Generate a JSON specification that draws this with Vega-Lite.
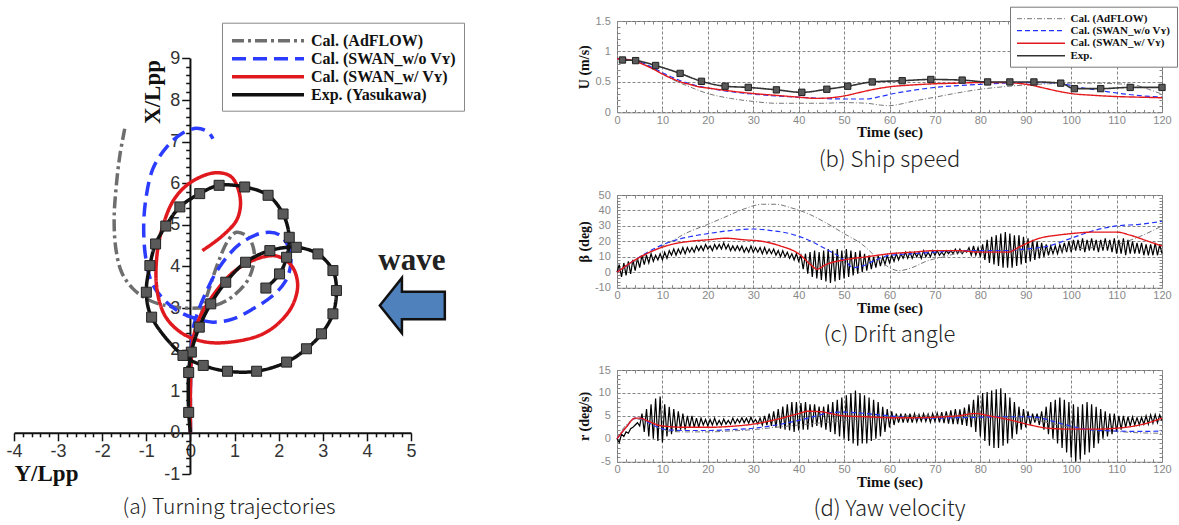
{
"$schema":"https://vega.github.io/schema/vega-lite/v6.json",
"background":"#ffffff",
"padding":{"left":5,"top":5,"right":0,"bottom":0},
"spacing":111,
"datasets":{
"traj":[
{"s":"A","o":1,"ylpp":0,"xlpp":0},{"s":"A","o":2,"ylpp":0,"xlpp":1.0},{"s":"A","o":3,"ylpp":0.02,"xlpp":1.8},{"s":"A","o":4,"ylpp":0.08,"xlpp":2.3},{"s":"A","o":5,"ylpp":0.21,"xlpp":2.74},{"s":"A","o":6,"ylpp":0.40,"xlpp":3.38},{"s":"A","o":7,"ylpp":0.63,"xlpp":4.10},{"s":"A","o":8,"ylpp":0.85,"xlpp":4.62},{"s":"A","o":9,"ylpp":1.04,"xlpp":4.82},{"s":"A","o":10,"ylpp":1.31,"xlpp":4.70},{"s":"A","o":11,"ylpp":1.44,"xlpp":4.38},{"s":"A","o":12,"ylpp":1.42,"xlpp":4.00},{"s":"A","o":13,"ylpp":1.27,"xlpp":3.62},{"s":"A","o":14,"ylpp":0.82,"xlpp":3.18},{"s":"A","o":15,"ylpp":0.36,"xlpp":3.02},{"s":"A","o":16,"ylpp":-0.35,"xlpp":3.02},{"s":"A","o":17,"ylpp":-0.92,"xlpp":3.18},{"s":"A","o":18,"ylpp":-1.30,"xlpp":3.46},{"s":"A","o":19,"ylpp":-1.56,"xlpp":3.86},{"s":"A","o":20,"ylpp":-1.69,"xlpp":4.42},{"s":"A","o":21,"ylpp":-1.73,"xlpp":5.14},{"s":"A","o":22,"ylpp":-1.68,"xlpp":5.95},{"s":"A","o":23,"ylpp":-1.60,"xlpp":6.67},{"s":"A","o":24,"ylpp":-1.49,"xlpp":7.31},
{"s":"W","o":1,"ylpp":0,"xlpp":0},{"s":"W","o":2,"ylpp":0,"xlpp":1.2},{"s":"W","o":3,"ylpp":0.02,"xlpp":2.0},{"s":"W","o":4,"ylpp":0.05,"xlpp":2.45},{"s":"W","o":5,"ylpp":0.14,"xlpp":2.82},{"s":"W","o":6,"ylpp":0.32,"xlpp":3.30},{"s":"W","o":7,"ylpp":0.63,"xlpp":3.94},{"s":"W","o":8,"ylpp":1.12,"xlpp":4.54},{"s":"W","o":9,"ylpp":1.65,"xlpp":4.81},{"s":"W","o":10,"ylpp":2.02,"xlpp":4.76},{"s":"W","o":11,"ylpp":2.24,"xlpp":4.42},{"s":"W","o":12,"ylpp":2.27,"xlpp":4.02},{"s":"W","o":13,"ylpp":2.14,"xlpp":3.62},{"s":"W","o":14,"ylpp":1.87,"xlpp":3.30},{"s":"W","o":15,"ylpp":1.42,"xlpp":2.98},{"s":"W","o":16,"ylpp":0.97,"xlpp":2.74},{"s":"W","o":17,"ylpp":0.51,"xlpp":2.66},{"s":"W","o":18,"ylpp":0.14,"xlpp":2.74},{"s":"W","o":19,"ylpp":-0.24,"xlpp":2.90},{"s":"W","o":20,"ylpp":-0.62,"xlpp":3.22},{"s":"W","o":21,"ylpp":-0.88,"xlpp":3.62},{"s":"W","o":22,"ylpp":-1.01,"xlpp":4.18},{"s":"W","o":23,"ylpp":-1.06,"xlpp":4.90},{"s":"W","o":24,"ylpp":-1.01,"xlpp":5.63},{"s":"W","o":25,"ylpp":-0.85,"xlpp":6.35},{"s":"W","o":26,"ylpp":-0.54,"xlpp":6.87},{"s":"W","o":27,"ylpp":-0.2,"xlpp":7.19},{"s":"W","o":28,"ylpp":0.14,"xlpp":7.32},{"s":"W","o":29,"ylpp":0.4,"xlpp":7.23},{"s":"W","o":30,"ylpp":0.51,"xlpp":7.07},
{"s":"S","o":1,"ylpp":0,"xlpp":0},{"s":"S","o":2,"ylpp":0,"xlpp":1.0},{"s":"S","o":3,"ylpp":0.02,"xlpp":1.8},{"s":"S","o":4,"ylpp":0.06,"xlpp":2.26},{"s":"S","o":5,"ylpp":0.2,"xlpp":2.75},{"s":"S","o":6,"ylpp":0.51,"xlpp":3.30},{"s":"S","o":7,"ylpp":0.97,"xlpp":3.86},{"s":"S","o":8,"ylpp":1.5,"xlpp":4.18},{"s":"S","o":9,"ylpp":1.95,"xlpp":4.25},{"s":"S","o":10,"ylpp":2.29,"xlpp":4.02},{"s":"S","o":11,"ylpp":2.43,"xlpp":3.58},{"s":"S","o":12,"ylpp":2.33,"xlpp":3.10},{"s":"S","o":13,"ylpp":2.06,"xlpp":2.70},{"s":"S","o":14,"ylpp":1.65,"xlpp":2.38},{"s":"S","o":15,"ylpp":1.04,"xlpp":2.20},{"s":"S","o":16,"ylpp":0.36,"xlpp":2.18},{"s":"S","o":17,"ylpp":-0.2,"xlpp":2.40},{"s":"S","o":18,"ylpp":-0.58,"xlpp":2.82},{"s":"S","o":19,"ylpp":-0.76,"xlpp":3.46},{"s":"S","o":20,"ylpp":-0.76,"xlpp":4.26},{"s":"S","o":21,"ylpp":-0.62,"xlpp":4.99},{"s":"S","o":22,"ylpp":-0.36,"xlpp":5.63},{"s":"S","o":23,"ylpp":0.02,"xlpp":6.03},{"s":"S","o":24,"ylpp":0.55,"xlpp":6.25},{"s":"S","o":25,"ylpp":0.93,"xlpp":6.15},{"s":"S","o":26,"ylpp":1.13,"xlpp":5.63},{"s":"S","o":27,"ylpp":1.06,"xlpp":5.14},{"s":"S","o":28,"ylpp":0.74,"xlpp":4.75},{"s":"S","o":29,"ylpp":0.27,"xlpp":4.38},
{"s":"E","o":1,"ylpp":0,"xlpp":0},{"s":"E","o":2,"ylpp":-0.04,"xlpp":0.49},{"s":"E","o":3,"ylpp":-0.04,"xlpp":1.45},{"s":"E","o":4,"ylpp":0.02,"xlpp":1.94},{"s":"E","o":5,"ylpp":0.2,"xlpp":2.54},{"s":"E","o":6,"ylpp":0.46,"xlpp":3.1},{"s":"E","o":7,"ylpp":0.8,"xlpp":3.62},{"s":"E","o":8,"ylpp":1.25,"xlpp":4.1},{"s":"E","o":9,"ylpp":1.8,"xlpp":4.38},{"s":"E","o":10,"ylpp":2.4,"xlpp":4.46},{"s":"E","o":11,"ylpp":2.89,"xlpp":4.3},{"s":"E","o":12,"ylpp":3.23,"xlpp":3.9},{"s":"E","o":13,"ylpp":3.31,"xlpp":3.42},{"s":"E","o":14,"ylpp":3.23,"xlpp":2.86},{"s":"E","o":15,"ylpp":2.97,"xlpp":2.38},{"s":"E","o":16,"ylpp":2.63,"xlpp":2.02},{"s":"E","o":17,"ylpp":2.18,"xlpp":1.7},{"s":"E","o":18,"ylpp":1.5,"xlpp":1.48},{"s":"E","o":19,"ylpp":0.84,"xlpp":1.48},{"s":"E","o":20,"ylpp":0.29,"xlpp":1.62},{"s":"E","o":21,"ylpp":-0.17,"xlpp":1.86},{"s":"E","o":22,"ylpp":-0.88,"xlpp":2.78},{"s":"E","o":23,"ylpp":-1.0,"xlpp":3.38},{"s":"E","o":24,"ylpp":-0.92,"xlpp":4.02},{"s":"E","o":25,"ylpp":-0.79,"xlpp":4.54},{"s":"E","o":26,"ylpp":-0.56,"xlpp":4.97},{"s":"E","o":27,"ylpp":-0.24,"xlpp":5.43},{"s":"E","o":28,"ylpp":0.21,"xlpp":5.75},{"s":"E","o":29,"ylpp":0.65,"xlpp":5.95},{"s":"E","o":30,"ylpp":1.23,"xlpp":5.91},{"s":"E","o":31,"ylpp":1.76,"xlpp":5.71},{"s":"E","o":32,"ylpp":2.1,"xlpp":5.26},{"s":"E","o":33,"ylpp":2.24,"xlpp":4.7},{"s":"E","o":34,"ylpp":2.18,"xlpp":4.22},{"s":"E","o":35,"ylpp":2.02,"xlpp":3.82},{"s":"E","o":36,"ylpp":1.71,"xlpp":3.48}
],
"ann":[
{"k":"axis","ylpp":0,"xlpp":-1,"xlpp2":9},
{"k":"wave","ylpp":5.02,"xlpp":4.13},
{"k":"arrow","ylpp":5.03,"xlpp":3.06}
],
"U":[
{"s":"A","t":0,"v":0.88},{"s":"A","t":2,"v":0.87},{"s":"A","t":4,"v":0.84},{"s":"A","t":6,"v":0.79},{"s":"A","t":8,"v":0.72},{"s":"A","t":10,"v":0.63},{"s":"A","t":12,"v":0.55},{"s":"A","t":14,"v":0.48},{"s":"A","t":16,"v":0.42},{"s":"A","t":18,"v":0.36},{"s":"A","t":20,"v":0.31},{"s":"A","t":25,"v":0.23},{"s":"A","t":30,"v":0.18},{"s":"A","t":35,"v":0.15},{"s":"A","t":40,"v":0.15},{"s":"A","t":45,"v":0.15},{"s":"A","t":50,"v":0.16},{"s":"A","t":55,"v":0.15},{"s":"A","t":58,"v":0.12},{"s":"A","t":60,"v":0.11},{"s":"A","t":62,"v":0.13},{"s":"A","t":65,"v":0.18},{"s":"A","t":70,"v":0.25},{"s":"A","t":75,"v":0.32},{"s":"A","t":80,"v":0.38},{"s":"A","t":85,"v":0.42},{"s":"A","t":90,"v":0.45},{"s":"A","t":95,"v":0.47},{"s":"A","t":100,"v":0.48},{"s":"A","t":105,"v":0.48},{"s":"A","t":110,"v":0.47},{"s":"A","t":114,"v":0.45},{"s":"A","t":117,"v":0.38},{"s":"A","t":120,"v":0.30},
{"s":"W","t":0,"v":0.88},{"s":"W","t":2,"v":0.87},{"s":"W","t":4,"v":0.85},{"s":"W","t":6,"v":0.80},{"s":"W","t":8,"v":0.73},{"s":"W","t":10,"v":0.65},{"s":"W","t":12,"v":0.58},{"s":"W","t":14,"v":0.52},{"s":"W","t":16,"v":0.47},{"s":"W","t":18,"v":0.43},{"s":"W","t":20,"v":0.40},{"s":"W","t":25,"v":0.34},{"s":"W","t":30,"v":0.30},{"s":"W","t":35,"v":0.27},{"s":"W","t":40,"v":0.25},{"s":"W","t":45,"v":0.23},{"s":"W","t":50,"v":0.22},{"s":"W","t":55,"v":0.22},{"s":"W","t":58,"v":0.26},{"s":"W","t":61,"v":0.31},{"s":"W","t":65,"v":0.36},{"s":"W","t":70,"v":0.41},{"s":"W","t":75,"v":0.44},{"s":"W","t":80,"v":0.46},{"s":"W","t":85,"v":0.48},{"s":"W","t":90,"v":0.49},{"s":"W","t":95,"v":0.49},{"s":"W","t":98,"v":0.47},{"s":"W","t":102,"v":0.41},{"s":"W","t":107,"v":0.35},{"s":"W","t":112,"v":0.30},{"s":"W","t":116,"v":0.27},{"s":"W","t":120,"v":0.25},
{"s":"S","t":0,"v":0.88},{"s":"S","t":2,"v":0.87},{"s":"S","t":4,"v":0.84},{"s":"S","t":6,"v":0.78},{"s":"S","t":8,"v":0.71},{"s":"S","t":10,"v":0.63},{"s":"S","t":12,"v":0.56},{"s":"S","t":14,"v":0.50},{"s":"S","t":16,"v":0.46},{"s":"S","t":18,"v":0.42},{"s":"S","t":20,"v":0.40},{"s":"S","t":25,"v":0.35},{"s":"S","t":30,"v":0.31},{"s":"S","t":35,"v":0.28},{"s":"S","t":40,"v":0.25},{"s":"S","t":44,"v":0.23},{"s":"S","t":47,"v":0.24},{"s":"S","t":50,"v":0.27},{"s":"S","t":53,"v":0.32},{"s":"S","t":56,"v":0.37},{"s":"S","t":60,"v":0.42},{"s":"S","t":65,"v":0.45},{"s":"S","t":70,"v":0.47},{"s":"S","t":75,"v":0.48},{"s":"S","t":80,"v":0.49},{"s":"S","t":85,"v":0.49},{"s":"S","t":88,"v":0.48},{"s":"S","t":91,"v":0.45},{"s":"S","t":94,"v":0.40},{"s":"S","t":97,"v":0.35},{"s":"S","t":100,"v":0.31},{"s":"S","t":105,"v":0.28},{"s":"S","t":110,"v":0.26},{"s":"S","t":115,"v":0.25},{"s":"S","t":120,"v":0.24},
{"s":"E","t":1.2,"v":0.86},{"s":"E","t":4.1,"v":0.85},{"s":"E","t":8.5,"v":0.77},{"s":"E","t":13.9,"v":0.64},{"s":"E","t":18.6,"v":0.51},{"s":"E","t":23.8,"v":0.43},{"s":"E","t":28.9,"v":0.41},{"s":"E","t":35.1,"v":0.37},{"s":"E","t":40.7,"v":0.33},{"s":"E","t":46.2,"v":0.38},{"s":"E","t":50.8,"v":0.43},{"s":"E","t":56.2,"v":0.50},{"s":"E","t":62.8,"v":0.52},{"s":"E","t":69.1,"v":0.54},{"s":"E","t":76,"v":0.53},{"s":"E","t":81.6,"v":0.50},{"s":"E","t":86.5,"v":0.50},{"s":"E","t":91.8,"v":0.50},{"s":"E","t":97.7,"v":0.48},{"s":"E","t":100.7,"v":0.39},{"s":"E","t":106.5,"v":0.39},{"s":"E","t":113,"v":0.41},{"s":"E","t":120,"v":0.41}
],
"B":[
{"s":"A","t":0,"v":0},{"s":"A","t":4,"v":7},{"s":"A","t":8,"v":14},{"s":"A","t":12,"v":20},{"s":"A","t":15,"v":25},{"s":"A","t":20,"v":31},{"s":"A","t":24,"v":36},{"s":"A","t":28,"v":41},{"s":"A","t":32,"v":44},{"s":"A","t":35,"v":44},{"s":"A","t":38,"v":42},{"s":"A","t":42,"v":38},{"s":"A","t":46,"v":32},{"s":"A","t":50,"v":25},{"s":"A","t":54,"v":18},{"s":"A","t":57,"v":10},{"s":"A","t":60,"v":3},{"s":"A","t":62,"v":1},{"s":"A","t":65,"v":3},{"s":"A","t":68,"v":7},{"s":"A","t":72,"v":10},{"s":"A","t":76,"v":13},{"s":"A","t":80,"v":14},{"s":"A","t":85,"v":14},{"s":"A","t":90,"v":14},{"s":"A","t":95,"v":14},{"s":"A","t":100,"v":15},{"s":"A","t":105,"v":16},{"s":"A","t":110,"v":18},{"s":"A","t":115,"v":23},{"s":"A","t":120,"v":30},
{"s":"W","t":0,"v":0},{"s":"W","t":4,"v":8},{"s":"W","t":8,"v":15},{"s":"W","t":12,"v":20},{"s":"W","t":16,"v":23},{"s":"W","t":20,"v":25},{"s":"W","t":25,"v":27},{"s":"W","t":30,"v":28},{"s":"W","t":34,"v":27},{"s":"W","t":38,"v":25},{"s":"W","t":42,"v":21},{"s":"W","t":46,"v":15},{"s":"W","t":50,"v":8},{"s":"W","t":52,"v":3},{"s":"W","t":54,"v":4},{"s":"W","t":57,"v":8},{"s":"W","t":60,"v":11},{"s":"W","t":65,"v":12},{"s":"W","t":70,"v":13},{"s":"W","t":75,"v":14},{"s":"W","t":80,"v":14},{"s":"W","t":85,"v":14},{"s":"W","t":90,"v":15},{"s":"W","t":95,"v":17},{"s":"W","t":100,"v":22},{"s":"W","t":105,"v":27},{"s":"W","t":110,"v":30},{"s":"W","t":115,"v":31},{"s":"W","t":120,"v":33},
{"s":"S","t":0,"v":0},{"s":"S","t":4,"v":8},{"s":"S","t":8,"v":14},{"s":"S","t":12,"v":18},{"s":"S","t":16,"v":20},{"s":"S","t":20,"v":21},{"s":"S","t":24,"v":22},{"s":"S","t":28,"v":21},{"s":"S","t":32,"v":20},{"s":"S","t":36,"v":17},{"s":"S","t":40,"v":12},{"s":"S","t":43,"v":4},{"s":"S","t":44,"v":2},{"s":"S","t":46,"v":5},{"s":"S","t":50,"v":8},{"s":"S","t":55,"v":10},{"s":"S","t":60,"v":12},{"s":"S","t":65,"v":13},{"s":"S","t":70,"v":14},{"s":"S","t":75,"v":14},{"s":"S","t":80,"v":13},{"s":"S","t":86,"v":13},{"s":"S","t":89,"v":17},{"s":"S","t":93,"v":22},{"s":"S","t":97,"v":24},{"s":"S","t":100,"v":25},{"s":"S","t":105,"v":26},{"s":"S","t":110,"v":26},{"s":"S","t":113,"v":24},{"s":"S","t":117,"v":20},{"s":"S","t":120,"v":17}
],
"R":[
{"s":"A","t":0,"v":0},{"s":"A","t":2,"v":3},{"s":"A","t":4,"v":4.3},{"s":"A","t":6,"v":4},{"s":"A","t":8,"v":3},{"s":"A","t":10,"v":2},{"s":"A","t":12,"v":1.6},{"s":"A","t":15,"v":1.5},{"s":"A","t":20,"v":1.5},{"s":"A","t":25,"v":1.7},{"s":"A","t":30,"v":2},{"s":"A","t":35,"v":2.5},{"s":"A","t":40,"v":3},{"s":"A","t":45,"v":3.5},{"s":"A","t":50,"v":4},{"s":"A","t":55,"v":4.5},{"s":"A","t":60,"v":4.8},{"s":"A","t":65,"v":5},{"s":"A","t":70,"v":5},{"s":"A","t":80,"v":4.8},{"s":"A","t":90,"v":4.5},{"s":"A","t":95,"v":3.5},{"s":"A","t":100,"v":2.5},{"s":"A","t":105,"v":2},{"s":"A","t":110,"v":1.6},{"s":"A","t":115,"v":1.3},{"s":"A","t":120,"v":1.2},
{"s":"W","t":0,"v":0},{"s":"W","t":2,"v":2.5},{"s":"W","t":4,"v":4.5},{"s":"W","t":5,"v":4.5},{"s":"W","t":7,"v":3.5},{"s":"W","t":9,"v":2.5},{"s":"W","t":11,"v":2},{"s":"W","t":15,"v":1.8},{"s":"W","t":20,"v":1.8},{"s":"W","t":25,"v":2},{"s":"W","t":30,"v":2.3},{"s":"W","t":35,"v":3},{"s":"W","t":40,"v":4},{"s":"W","t":44,"v":5},{"s":"W","t":47,"v":5.7},{"s":"W","t":50,"v":5.8},{"s":"W","t":55,"v":5.5},{"s":"W","t":60,"v":5},{"s":"W","t":65,"v":4.6},{"s":"W","t":70,"v":4.5},{"s":"W","t":75,"v":4.6},{"s":"W","t":80,"v":4.7},{"s":"W","t":85,"v":4.8},{"s":"W","t":90,"v":4.8},{"s":"W","t":93,"v":4.6},{"s":"W","t":96,"v":3.8},{"s":"W","t":99,"v":3},{"s":"W","t":102,"v":2.3},{"s":"W","t":105,"v":1.9},{"s":"W","t":110,"v":1.7},{"s":"W","t":115,"v":1.6},{"s":"W","t":120,"v":1.7},
{"s":"S","t":0,"v":0},{"s":"S","t":2,"v":2.5},{"s":"S","t":4,"v":4.5},{"s":"S","t":5,"v":4.5},{"s":"S","t":7,"v":3.8},{"s":"S","t":9,"v":3},{"s":"S","t":11,"v":2.7},{"s":"S","t":15,"v":2.5},{"s":"S","t":20,"v":2.5},{"s":"S","t":25,"v":2.7},{"s":"S","t":30,"v":3.2},{"s":"S","t":35,"v":4.2},{"s":"S","t":40,"v":5.5},{"s":"S","t":42,"v":6},{"s":"S","t":45,"v":5.9},{"s":"S","t":47,"v":5.5},{"s":"S","t":50,"v":5},{"s":"S","t":55,"v":4.8},{"s":"S","t":60,"v":4.6},{"s":"S","t":65,"v":4.6},{"s":"S","t":70,"v":4.7},{"s":"S","t":75,"v":5},{"s":"S","t":79,"v":5.5},{"s":"S","t":82,"v":5},{"s":"S","t":87,"v":4},{"s":"S","t":91,"v":3},{"s":"S","t":95,"v":2.3},{"s":"S","t":100,"v":2.1},{"s":"S","t":105,"v":2.1},{"s":"S","t":110,"v":2.3},{"s":"S","t":114,"v":2.8},{"s":"S","t":117,"v":3.5},{"s":"S","t":120,"v":4.5}
],
"X":[
{"t":0,"b":0,"r":0},{"t":0.5,"b":5,"r":-0.8},{"t":1,"b":-3,"r":1},{"t":1.5,"b":6,"r":0.5},{"t":2,"b":-2,"r":1.5},{"t":2.5,"b":7,"r":1.2},{"t":3,"b":-1,"r":2.2},{"t":3.5,"b":8,"r":2.5},{"t":4,"b":1,"r":3},{"t":4.5,"b":9,"r":3.5},
{"t":5,"b":3,"r":2.8},{"t":5.5,"b":11,"r":5.5},{"t":6,"b":5,"r":1.5},{"t":6.5,"b":11,"r":6.5},{"t":7,"b":6,"r":0.5},{"t":7.5,"b":12,"r":7.5},{"t":8,"b":7,"r":0},{"t":8.5,"b":11,"r":8.8},{"t":9,"b":8,"r":-0.5},{"t":9.5,"b":12,"r":9.2},
{"t":10,"b":8,"r":-0.8},{"t":10.5,"b":13,"r":7.5},{"t":11,"b":9,"r":0.5},{"t":11.5,"b":14,"r":7},{"t":12,"b":11,"r":1},{"t":12.5,"b":15,"r":6.5},{"t":13,"b":11,"r":1.5},{"t":13.5,"b":15,"r":6},{"t":14,"b":12,"r":2},{"t":14.5,"b":16,"r":5.5},
{"t":15,"b":12,"r":2},{"t":15.5,"b":16,"r":5},{"t":16,"b":13,"r":2.5},{"t":16.5,"b":16,"r":5},{"t":17,"b":13,"r":2.5},{"t":17.5,"b":17,"r":4.5},{"t":18,"b":14,"r":2.5},{"t":18.5,"b":17,"r":4.5},{"t":19,"b":14,"r":3},{"t":19.5,"b":18,"r":4.2},
{"t":20,"b":15,"r":2.8},{"t":20.5,"b":17,"r":4.2},{"t":21,"b":14,"r":3},{"t":21.5,"b":18,"r":4.5},{"t":22,"b":15,"r":3},{"t":22.5,"b":18,"r":4},{"t":23,"b":15,"r":3},{"t":23.5,"b":19,"r":4.3},{"t":24,"b":15,"r":3.2},{"t":24.5,"b":18,"r":4},
{"t":25,"b":14,"r":3.2},{"t":25.5,"b":17,"r":4.5},{"t":26,"b":14,"r":3.3},{"t":26.5,"b":17,"r":4.3},{"t":27,"b":14,"r":3.5},{"t":27.5,"b":17,"r":4.6},{"t":28,"b":13,"r":3.5},{"t":28.5,"b":16,"r":4.5},{"t":29,"b":13,"r":3.4},{"t":29.5,"b":17,"r":4.7},
{"t":30,"b":13,"r":3.5},{"t":30.5,"b":16,"r":4.2},{"t":31,"b":13,"r":3.2},{"t":31.5,"b":16,"r":4.5},{"t":32,"b":12,"r":3},{"t":32.5,"b":16,"r":5},{"t":33,"b":12,"r":3},{"t":33.5,"b":15,"r":5.5},{"t":34,"b":12,"r":2.8},{"t":34.5,"b":15,"r":6},
{"t":35,"b":11,"r":2.5},{"t":35.5,"b":14,"r":6.5},{"t":36,"b":10,"r":2.2},{"t":36.5,"b":14,"r":7},{"t":37,"b":10,"r":2},{"t":37.5,"b":13,"r":7.5},{"t":38,"b":9,"r":1.8},{"t":38.5,"b":12,"r":8},{"t":39,"b":8,"r":1.5},{"t":39.5,"b":12,"r":8},
{"t":40,"b":7,"r":1.8},{"t":40.5,"b":11,"r":7.8},{"t":41,"b":2,"r":2},{"t":41.5,"b":12,"r":8},{"t":42,"b":-1,"r":2},{"t":42.5,"b":13,"r":7.5},{"t":43,"b":-3,"r":2.5},{"t":43.5,"b":14,"r":7.5},{"t":44,"b":-4,"r":2.8},{"t":44.5,"b":13,"r":7},
{"t":45,"b":-5,"r":2.5},{"t":45.5,"b":14,"r":7},{"t":46,"b":-6,"r":2},{"t":46.5,"b":15,"r":7.5},{"t":47,"b":-7,"r":1.5},{"t":47.5,"b":14,"r":8},{"t":48,"b":-6,"r":1},{"t":48.5,"b":15,"r":8.5},{"t":49,"b":-5,"r":0.5},{"t":49.5,"b":14,"r":9},
{"t":50,"b":-4,"r":0},{"t":50.5,"b":15,"r":9.5},{"t":51,"b":-3,"r":-0.5},{"t":51.5,"b":14,"r":10},{"t":52,"b":-2,"r":-1},{"t":52.5,"b":13,"r":10.5},{"t":53,"b":-1,"r":-1.5},{"t":53.5,"b":14,"r":10},{"t":54,"b":0,"r":-1},{"t":54.5,"b":12,"r":9.5},
{"t":55,"b":1,"r":-1},{"t":55.5,"b":11,"r":9},{"t":56,"b":2,"r":-0.5},{"t":56.5,"b":10,"r":8.5},{"t":57,"b":3,"r":0},{"t":57.5,"b":11,"r":8},{"t":58,"b":4,"r":0.5},{"t":58.5,"b":10,"r":7},{"t":59,"b":5,"r":1.5},{"t":59.5,"b":11,"r":6.5},
{"t":60,"b":6,"r":2.5},{"t":60.5,"b":11,"r":6},{"t":61,"b":7,"r":3},{"t":61.5,"b":12,"r":5.5},{"t":62,"b":8,"r":3.5},{"t":62.5,"b":12,"r":5.5},{"t":63,"b":9,"r":3.5},{"t":63.5,"b":13,"r":5.5},{"t":64,"b":9,"r":3.5},{"t":64.5,"b":13,"r":5.5},
{"t":65,"b":9,"r":3.5},{"t":65.5,"b":13,"r":5.5},{"t":66,"b":10,"r":3.7},{"t":66.5,"b":13,"r":5.3},{"t":67,"b":9,"r":3.8},{"t":67.5,"b":14,"r":5.5},{"t":68,"b":10,"r":3.8},{"t":68.5,"b":13,"r":5.4},{"t":69,"b":10,"r":3.6},{"t":69.5,"b":14,"r":5.5},
{"t":70,"b":11,"r":3.8},{"t":70.5,"b":14,"r":5.6},{"t":71,"b":11,"r":3.6},{"t":71.5,"b":13,"r":5.8},{"t":72,"b":11,"r":3.4},{"t":72.5,"b":14,"r":6},{"t":73,"b":12,"r":3.3},{"t":73.5,"b":14,"r":6.2},{"t":74,"b":12,"r":3.2},{"t":74.5,"b":15,"r":6.5},
{"t":75,"b":12,"r":3.2},{"t":75.5,"b":15,"r":6.4},{"t":76,"b":12,"r":3},{"t":76.5,"b":14,"r":6.8},{"t":77,"b":13,"r":2.8},{"t":77.5,"b":16,"r":7.5},{"t":78,"b":11,"r":2.5},{"t":78.5,"b":17,"r":8.5},{"t":79,"b":11,"r":1.5},{"t":79.5,"b":16,"r":9.5},
{"t":80,"b":10,"r":0.5},{"t":80.5,"b":18,"r":10},{"t":81,"b":8,"r":-0.5},{"t":81.5,"b":21,"r":10.2},{"t":82,"b":6,"r":-1.5},{"t":82.5,"b":23,"r":10.5},{"t":83,"b":5,"r":-2},{"t":83.5,"b":24,"r":10.8},{"t":84,"b":4,"r":-2},{"t":84.5,"b":25,"r":11},
{"t":85,"b":3,"r":-1.5},{"t":85.5,"b":26,"r":10},{"t":86,"b":3,"r":-1},{"t":86.5,"b":25,"r":9},{"t":87,"b":3,"r":0},{"t":87.5,"b":24,"r":8},{"t":88,"b":4,"r":1},{"t":88.5,"b":24,"r":7},{"t":89,"b":5,"r":2},{"t":89.5,"b":23,"r":6.5},
{"t":90,"b":6,"r":2.5},{"t":90.5,"b":22,"r":6},{"t":91,"b":7,"r":3},{"t":91.5,"b":21,"r":5.5},{"t":92,"b":8,"r":3.5},{"t":92.5,"b":20,"r":5.5},{"t":93,"b":9,"r":3},{"t":93.5,"b":19,"r":6},{"t":94,"b":10,"r":2},{"t":94.5,"b":18,"r":7},
{"t":95,"b":11,"r":1},{"t":95.5,"b":17,"r":8},{"t":96,"b":12,"r":0},{"t":96.5,"b":17,"r":8.5},{"t":97,"b":12,"r":-1},{"t":97.5,"b":18,"r":9},{"t":98,"b":13,"r":-2},{"t":98.5,"b":19,"r":8.5},{"t":99,"b":13,"r":-3},{"t":99.5,"b":20,"r":8},
{"t":100,"b":13,"r":-4},{"t":100.5,"b":21,"r":7.5},{"t":101,"b":14,"r":-5},{"t":101.5,"b":21,"r":7},{"t":102,"b":14,"r":-4.5},{"t":102.5,"b":22,"r":7.5},{"t":103,"b":13,"r":-3.5},{"t":103.5,"b":21,"r":8},{"t":104,"b":14,"r":-3},{"t":104.5,"b":22,"r":7.5},
{"t":105,"b":14,"r":-2},{"t":105.5,"b":21,"r":7},{"t":106,"b":13,"r":-1},{"t":106.5,"b":21,"r":6.5},{"t":107,"b":14,"r":0},{"t":107.5,"b":22,"r":6},{"t":108,"b":14,"r":0.5},{"t":108.5,"b":21,"r":5.5},{"t":109,"b":13,"r":1},{"t":109.5,"b":22,"r":5.5},
{"t":110,"b":12,"r":1.5},{"t":110.5,"b":21,"r":5},{"t":111,"b":12,"r":2},{"t":111.5,"b":22,"r":5},{"t":112,"b":11,"r":2.5},{"t":112.5,"b":21,"r":4.8},{"t":113,"b":12,"r":2.8},{"t":113.5,"b":20,"r":4.8},{"t":114,"b":12,"r":3},{"t":114.5,"b":19,"r":4.6},
{"t":115,"b":12,"r":3},{"t":115.5,"b":19,"r":4.7},{"t":116,"b":11,"r":3.2},{"t":116.5,"b":18,"r":5},{"t":117,"b":11,"r":3.2},{"t":117.5,"b":18,"r":5.2},{"t":118,"b":11,"r":3.4},{"t":118.5,"b":19,"r":5.3},{"t":119,"b":11,"r":3.5},{"t":119.5,"b":18,"r":5.2},
{"t":120,"b":12,"r":4}
]
},
"hconcat":[
{
"width":397,"height":453.4,
"view":{"stroke":null},
"title":{"text":"(a) Turning trajectories","orient":"bottom","anchor":"middle","frame":"group","dx":16.5,"offset":11,"font":"Noto Sans CJK KR","fontSize":21,"fontWeight":300,"color":"#222222"},
"layer":[
{"data":{"name":"ann"},"transform":[{"filter":"datum.k==='axis'"}],"mark":{"type":"rule","color":"#111111","strokeWidth":2},
 "encoding":{"x":{"field":"ylpp","type":"quantitative"},"y":{"field":"xlpp","type":"quantitative"},"y2":{"field":"xlpp2"}}},
{"data":{"name":"traj"},"mark":{"type":"line","interpolate":"catmull-rom","strokeCap":"butt"},
 "encoding":{
  "x":{"field":"ylpp","type":"quantitative","scale":{"domain":[-4,5],"nice":false,"zero":false},
   "axis":{"orient":"bottom","offset":-41.6,"tickCount":1000,"values":[-4,-3.8,-3.6,-3.4,-3.2,-3,-2.8,-2.6,-2.4,-2.2,-2,-1.8,-1.6,-1.4,-1.2,-1,-0.8,-0.6,-0.4,-0.2,0,0.2,0.4,0.6,0.8,1,1.2,1.4,1.6,1.8,2,2.2,2.4,2.6,2.8,3,3.2,3.4,3.6,3.8,4,4.2,4.4,4.6,4.8,5],
    "labelExpr":"datum.value % 1 === 0 ? ''+datum.value : ''","grid":false,"domain":true,"domainColor":"#111111","domainWidth":2,
    "ticks":true,"tickColor":"#111111","tickWidth":1.5,"tickSize":{"condition":{"test":"datum.value % 1 === 0","value":8},"value":4},
    "labelFont":"Liberation Sans","labelFontSize":18,"labelColor":"#333333","labelPadding":2,"labelOverlap":false,"labelFlush":false,
    "title":"Y/Lpp","titleFont":"Liberation Serif","titleFontWeight":"bold","titleFontSize":23,"titleColor":"#111111","titleX":0,"titleY":41,"titleAlign":"left","titleBaseline":"middle"}},
  "y":{"field":"xlpp","type":"quantitative","scale":{"domain":[-1,9.9],"nice":false,"zero":false},
   "axis":{"orient":"left","offset":-175.7,"tickCount":1000,"values":[-1,-0.8,-0.6,-0.4,-0.2,0,0.2,0.4,0.6,0.8,1,1.2,1.4,1.6,1.8,2,2.2,2.4,2.6,2.8,3,3.2,3.4,3.6,3.8,4,4.2,4.4,4.6,4.8,5,5.2,5.4,5.6,5.8,6,6.2,6.4,6.6,6.8,7,7.2,7.4,7.6,7.8,8,8.2,8.4,8.6,8.8,9],
    "labelExpr":"datum.value % 1 === 0 ? ''+datum.value : ''","grid":false,"domain":false,
    "ticks":true,"tickColor":"#111111","tickWidth":1.5,"tickSize":{"condition":{"test":"datum.value % 1 === 0","value":8},"value":4},
    "labelFont":"Liberation Sans","labelFontSize":18,"labelColor":"#333333","labelPadding":2,"labelOverlap":false,"labelFlush":false,
    "title":"X/Lpp","titleFont":"Liberation Serif","titleFontWeight":"bold","titleFontSize":23,"titleColor":"#111111","titleX":-37.7,"titleY":38.5,"titleAngle":-90,"titleAlign":"right","titleBaseline":"middle"}},
  "order":{"field":"o","type":"quantitative"},
  "color":{"field":"s","type":"nominal","scale":{"domain":["A","W","S","E"],"range":["#6e6e6e","#2b3cff","#e0191e","#111111"]},
   "legend":{"orient":"none","legendX":208,"legendY":1.7,"title":null,"direction":"vertical",
    "labelExpr":"datum.label==='A'?'Cal. (AdFLOW)':datum.label==='W'?'Cal. (SWAN_w/o Vʏ)':datum.label==='S'?'Cal. (SWAN_w/  Vʏ)':'Exp. (Yasukawa)'",
    "labelFont":"Liberation Serif","labelFontWeight":"bold","labelFontSize":16,"labelColor":"#111111","labelLimit":400,
    "symbolType":"M -4.5 0 L 4.5 0","symbolSize":256,"symbolOffset":28,"labelOffset":33,
    "fillColor":"#ffffff","strokeColor":"#888888","padding":8,"rowPadding":0}},
  "strokeDash":{"field":"s","type":"nominal","scale":{"domain":["A","W","S","E"],"range":[[12,4,3,4],[14,7],[1,0],[1,0]]}},
  "strokeWidth":{"field":"s","type":"ordinal","scale":{"domain":["A","W","S","E"],"range":[3.5,3.5,3,3]}}
 }},
{"data":{"name":"traj"},"transform":[{"filter":"datum.s==='E' && datum.o>1"}],"mark":{"type":"point","shape":"square","filled":true,"size":100,"fill":"#5a5a5a","stroke":"#222222","strokeWidth":1,"opacity":1},
 "encoding":{"x":{"field":"ylpp","type":"quantitative"},"y":{"field":"xlpp","type":"quantitative"}}},
{"data":{"name":"ann"},"transform":[{"filter":"datum.k==='wave'"}],"mark":{"type":"text","font":"Liberation Serif","fontWeight":"bold","fontSize":31,"color":"#222222","align":"center","baseline":"middle"},
 "encoding":{"x":{"field":"ylpp","type":"quantitative"},"y":{"field":"xlpp","type":"quantitative"},"text":{"field":"k"}}},
{"data":{"name":"ann"},"transform":[{"filter":"datum.k==='arrow'"}],"mark":{"type":"point","shape":"M -1 0 L -0.32 -0.85 L -0.32 -0.42 L 1 -0.42 L 1 0.42 L -0.32 0.42 L -0.32 0.85 Z","size":4225,"filled":true,"fill":"#4f81bd","stroke":"#111111","strokeWidth":2.5,"opacity":1},
 "encoding":{"x":{"field":"ylpp","type":"quantitative"},"y":{"field":"xlpp","type":"quantitative"}}}
]
},
{
"vconcat":[
{
"width":545,"height":91.4,
"title":{"text":"(b) Ship speed","orient":"bottom","anchor":"middle","frame":"group","offset":10,"font":"Noto Sans CJK KR","fontSize":22,"fontWeight":300,"color":"#222222"},
"resolve":{"axis":{"x":"independent","y":"independent"}},
"layer":[
{"data":{"name":"U"},"mark":{"type":"line","interpolate":"monotone"},
 "encoding":{
  "x":{"field":"t","type":"quantitative","scale":{"domain":[0,120],"nice":false},
   "axis":{"orient":"bottom","tickCount":1000,"values":[0,2,4,6,8,10,12,14,16,18,20,22,24,26,28,30,32,34,36,38,40,42,44,46,48,50,52,54,56,58,60,62,64,66,68,70,72,74,76,78,80,82,84,86,88,90,92,94,96,98,100,102,104,106,108,110,112,114,116,118,120],
    "labelExpr":"datum.value % 10 === 0 ? ''+datum.value : ''","grid":true,"gridDash":[3,2],"gridColor":"#666666","gridWidth":0.8,
    "gridOpacity":{"condition":{"test":"datum.value % 10 === 0","value":1},"value":0},
    "domain":false,"ticks":true,"tickSize":-3,"tickColor":"#888888","tickWidth":1,
    "labelFont":"Liberation Sans","labelFontSize":11,"labelColor":"#888888","labelPadding":5,"labelOverlap":false,"labelFlush":false,
    "title":"Time (sec)","titleFont":"Liberation Serif","titleFontWeight":"bold","titleFontSize":15,"titleColor":"#111111","titleY":19.3,"titleBaseline":"middle"}},
  "y":{"field":"v","type":"quantitative","scale":{"domain":[0,1.5],"nice":false},
   "axis":{"orient":"left","tickCount":1000,"values":[0,0.1,0.2,0.3,0.4,0.5,0.6,0.7,0.8,0.9,1,1.1,1.2,1.3,1.4,1.5],
    "labelExpr":"(datum.value*2) % 1 === 0 ? ''+datum.value : ''","grid":true,"gridDash":[3,2],"gridColor":"#666666","gridWidth":0.8,
    "gridOpacity":{"condition":{"test":"(datum.value*2) % 1 === 0","value":1},"value":0},
    "domain":false,"ticks":true,"tickSize":-3,"tickColor":"#888888","tickWidth":1,
    "labelFont":"Liberation Sans","labelFontSize":11,"labelColor":"#888888","labelPadding":9.7,"labelOverlap":false,"labelFlush":false,
    "title":"U (m/s)","titleFont":"Liberation Serif","titleFontWeight":"bold","titleFontSize":14,"titleColor":"#111111","titleX":-32.7,"titleBaseline":"middle"}},
  "color":{"field":"s","type":"nominal","scale":{"domain":["A","W","S","E"],"range":["#777777","#2233ff","#e3191c","#333333"]},
   "legend":{"orient":"none","legendX":393,"legendY":-14.3,"title":null,"direction":"vertical",
    "labelExpr":"datum.label==='A'?'Cal. (AdFLOW)':datum.label==='W'?'Cal. (SWAN_w/o Vʏ)':datum.label==='S'?'Cal. (SWAN_w/  Vʏ)':'Exp.'",
    "labelFont":"Liberation Serif","labelFontWeight":"bold","labelFontSize":11,"labelColor":"#111111","labelLimit":300,
    "symbolType":"M -4.36 0 L 4.36 0","symbolSize":121,"symbolOffset":18.5,"labelOffset":23,
    "fillColor":"#ffffff","strokeColor":"#777777","padding":6,"rowPadding":0.5}},
  "strokeDash":{"field":"s","type":"nominal","scale":{"domain":["A","W","S","E"],"range":[[5,2,1,2],[5,3],[1,0],[1,0]]}},
  "strokeWidth":{"field":"s","type":"ordinal","scale":{"domain":["A","W","S","E"],"range":[1,1.6,1.8,2.2]}}
 }},
{"data":{"name":"U"},"transform":[{"filter":"datum.s==='E'"}],"mark":{"type":"point","shape":"square","filled":true,"size":40,"fill":"#5a5a5a","stroke":"#222222","strokeWidth":1,"opacity":1},
 "encoding":{
  "x":{"field":"t","type":"quantitative","axis":{"orient":"top","tickCount":1000,"values":[0,2,4,6,8,10,12,14,16,18,20,22,24,26,28,30,32,34,36,38,40,42,44,46,48,50,52,54,56,58,60,62,64,66,68,70,72,74,76,78,80,82,84,86,88,90,92,94,96,98,100,102,104,106,108,110,112,114,116,118,120],"labels":false,"grid":false,"domain":false,"ticks":true,"tickSize":-3,"tickColor":"#888888","tickWidth":1,"title":null}},
  "y":{"field":"v","type":"quantitative","axis":{"orient":"right","tickCount":1000,"values":[0,0.1,0.2,0.3,0.4,0.5,0.6,0.7,0.8,0.9,1,1.1,1.2,1.3,1.4,1.5],"labels":false,"grid":false,"domain":false,"ticks":true,"tickSize":-3,"tickColor":"#888888","tickWidth":1,"title":null}}
 }}
]
},
{
"width":545,"height":92.7,
"title":{"text":"(c) Drift angle","orient":"bottom","anchor":"middle","frame":"group","offset":10,"font":"Noto Sans CJK KR","fontSize":22,"fontWeight":300,"color":"#222222"},
"resolve":{"axis":{"x":"independent","y":"independent"}},
"layer":[
{"data":{"name":"X"},"mark":{"type":"line","color":"#000000","strokeWidth":1.2},
 "encoding":{
  "x":{"field":"t","type":"quantitative","scale":{"domain":[0,120],"nice":false},
   "axis":{"orient":"bottom","tickCount":1000,"values":[0,2,4,6,8,10,12,14,16,18,20,22,24,26,28,30,32,34,36,38,40,42,44,46,48,50,52,54,56,58,60,62,64,66,68,70,72,74,76,78,80,82,84,86,88,90,92,94,96,98,100,102,104,106,108,110,112,114,116,118,120],
    "labelExpr":"datum.value % 10 === 0 ? ''+datum.value : ''","grid":true,"gridDash":[3,2],"gridColor":"#666666","gridWidth":0.8,
    "gridOpacity":{"condition":{"test":"datum.value % 10 === 0","value":1},"value":0},
    "domain":false,"ticks":true,"tickSize":-3,"tickColor":"#888888","tickWidth":1,
    "labelFont":"Liberation Sans","labelFontSize":11,"labelColor":"#888888","labelPadding":5,"labelOverlap":false,"labelFlush":false,
    "title":"Time (sec)","titleFont":"Liberation Serif","titleFontWeight":"bold","titleFontSize":15,"titleColor":"#111111","titleY":19.3,"titleBaseline":"middle"}},
  "y":{"field":"b","type":"quantitative","scale":{"domain":[-10,50],"nice":false},
   "axis":{"orient":"left","tickCount":1000,"values":[-10,-8,-6,-4,-2,0,2,4,6,8,10,12,14,16,18,20,22,24,26,28,30,32,34,36,38,40,42,44,46,48,50],
    "labelExpr":"datum.value % 10 === 0 ? ''+datum.value : ''","grid":true,"gridDash":[3,2],"gridColor":"#666666","gridWidth":0.8,
    "gridOpacity":{"condition":{"test":"datum.value % 10 === 0","value":1},"value":0},
    "domain":false,"ticks":true,"tickSize":-3,"tickColor":"#888888","tickWidth":1,
    "labelFont":"Liberation Sans","labelFontSize":11,"labelColor":"#888888","labelPadding":9.7,"labelOverlap":false,"labelFlush":false,
    "title":"β (deg)","titleFont":"Liberation Serif","titleFontWeight":"bold","titleFontSize":14,"titleColor":"#111111","titleX":-32.7,"titleBaseline":"middle"}}
 }},
{"data":{"name":"B"},"mark":{"type":"line","interpolate":"monotone"},
 "encoding":{
  "x":{"field":"t","type":"quantitative","axis":{"orient":"top","tickCount":1000,"values":[0,2,4,6,8,10,12,14,16,18,20,22,24,26,28,30,32,34,36,38,40,42,44,46,48,50,52,54,56,58,60,62,64,66,68,70,72,74,76,78,80,82,84,86,88,90,92,94,96,98,100,102,104,106,108,110,112,114,116,118,120],"labels":false,"grid":false,"domain":false,"ticks":true,"tickSize":-3,"tickColor":"#888888","tickWidth":1,"title":null}},
  "y":{"field":"v","type":"quantitative","axis":{"orient":"right","tickCount":1000,"values":[-10,-8,-6,-4,-2,0,2,4,6,8,10,12,14,16,18,20,22,24,26,28,30,32,34,36,38,40,42,44,46,48,50],"labels":false,"grid":false,"domain":false,"ticks":true,"tickSize":-3,"tickColor":"#888888","tickWidth":1,"title":null}},
  "color":{"field":"s","type":"nominal","scale":{"domain":["A","W","S","E"],"range":["#777777","#2233ff","#e3191c","#333333"]},"legend":null},
  "strokeDash":{"field":"s","type":"nominal","scale":{"domain":["A","W","S","E"],"range":[[5,2,1,2],[5,3],[1,0],[1,0]]},"legend":null},
  "strokeWidth":{"field":"s","type":"ordinal","scale":{"domain":["A","W","S","E"],"range":[1,1.6,1.8,2.2]},"legend":null}
 }}
]
},
{
"width":545,"height":91.7,
"title":{"text":"(d) Yaw velocity","orient":"bottom","anchor":"middle","frame":"group","offset":10,"font":"Noto Sans CJK KR","fontSize":22,"fontWeight":300,"color":"#222222"},
"resolve":{"axis":{"x":"independent","y":"independent"}},
"layer":[
{"data":{"name":"X"},"mark":{"type":"line","color":"#000000","strokeWidth":1.2},
 "encoding":{
  "x":{"field":"t","type":"quantitative","scale":{"domain":[0,120],"nice":false},
   "axis":{"orient":"bottom","tickCount":1000,"values":[0,2,4,6,8,10,12,14,16,18,20,22,24,26,28,30,32,34,36,38,40,42,44,46,48,50,52,54,56,58,60,62,64,66,68,70,72,74,76,78,80,82,84,86,88,90,92,94,96,98,100,102,104,106,108,110,112,114,116,118,120],
    "labelExpr":"datum.value % 10 === 0 ? ''+datum.value : ''","grid":true,"gridDash":[3,2],"gridColor":"#666666","gridWidth":0.8,
    "gridOpacity":{"condition":{"test":"datum.value % 10 === 0","value":1},"value":0},
    "domain":false,"ticks":true,"tickSize":-3,"tickColor":"#888888","tickWidth":1,
    "labelFont":"Liberation Sans","labelFontSize":11,"labelColor":"#888888","labelPadding":5,"labelOverlap":false,"labelFlush":false,
    "title":"Time (sec)","titleFont":"Liberation Serif","titleFontWeight":"bold","titleFontSize":15,"titleColor":"#111111","titleY":19.3,"titleBaseline":"middle"}},
  "y":{"field":"r","type":"quantitative","scale":{"domain":[-5,15],"nice":false},
   "axis":{"orient":"left","tickCount":1000,"values":[-5,-4,-3,-2,-1,0,1,2,3,4,5,6,7,8,9,10,11,12,13,14,15],
    "labelExpr":"datum.value % 5 === 0 ? ''+datum.value : ''","grid":true,"gridDash":[3,2],"gridColor":"#666666","gridWidth":0.8,
    "gridOpacity":{"condition":{"test":"datum.value % 5 === 0","value":1},"value":0},
    "domain":false,"ticks":true,"tickSize":-3,"tickColor":"#888888","tickWidth":1,
    "labelFont":"Liberation Sans","labelFontSize":11,"labelColor":"#888888","labelPadding":9.7,"labelOverlap":false,"labelFlush":false,
    "title":"r (deg/s)","titleFont":"Liberation Serif","titleFontWeight":"bold","titleFontSize":14,"titleColor":"#111111","titleX":-32.7,"titleBaseline":"middle"}}
 }},
{"data":{"name":"R"},"mark":{"type":"line","interpolate":"monotone"},
 "encoding":{
  "x":{"field":"t","type":"quantitative","axis":{"orient":"top","tickCount":1000,"values":[0,2,4,6,8,10,12,14,16,18,20,22,24,26,28,30,32,34,36,38,40,42,44,46,48,50,52,54,56,58,60,62,64,66,68,70,72,74,76,78,80,82,84,86,88,90,92,94,96,98,100,102,104,106,108,110,112,114,116,118,120],"labels":false,"grid":false,"domain":false,"ticks":true,"tickSize":-3,"tickColor":"#888888","tickWidth":1,"title":null}},
  "y":{"field":"v","type":"quantitative","axis":{"orient":"right","tickCount":1000,"values":[-5,-4,-3,-2,-1,0,1,2,3,4,5,6,7,8,9,10,11,12,13,14,15],"labels":false,"grid":false,"domain":false,"ticks":true,"tickSize":-3,"tickColor":"#888888","tickWidth":1,"title":null}},
  "color":{"field":"s","type":"nominal","scale":{"domain":["A","W","S","E"],"range":["#777777","#2233ff","#e3191c","#333333"]},"legend":null},
  "strokeDash":{"field":"s","type":"nominal","scale":{"domain":["A","W","S","E"],"range":[[5,2,1,2],[5,3],[1,0],[1,0]]},"legend":null},
  "strokeWidth":{"field":"s","type":"ordinal","scale":{"domain":["A","W","S","E"],"range":[1,1.6,1.8,2.2]},"legend":null}
 }}
]
}
],
"spacing":16,
"resolve":{"scale":{"color":"independent","strokeDash":"independent","strokeWidth":"independent"},"legend":{"color":"independent","strokeDash":"independent","strokeWidth":"independent"}}
}
],
"resolve":{"scale":{"color":"independent","strokeDash":"independent","strokeWidth":"independent"},"legend":{"color":"independent","strokeDash":"independent","strokeWidth":"independent"}},
"config":{"view":{"stroke":"#999999","strokeWidth":1}}
}
